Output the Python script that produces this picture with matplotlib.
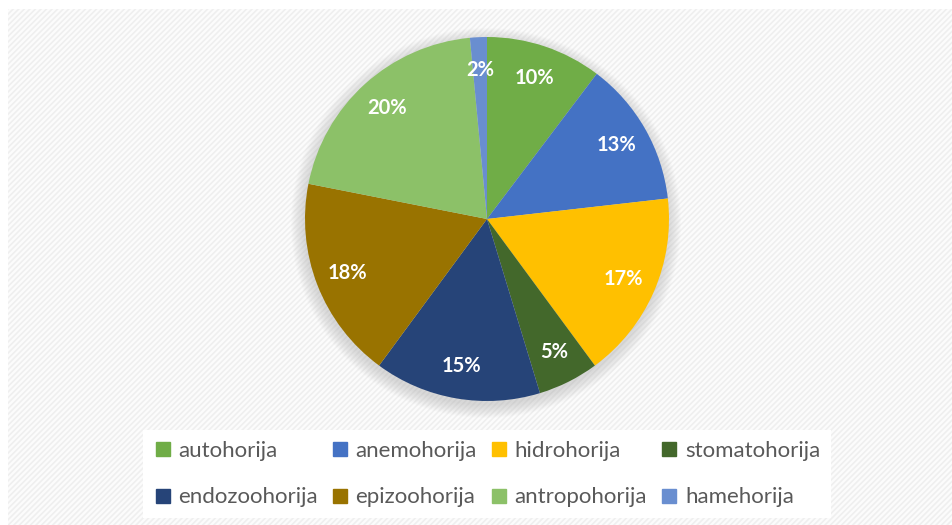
import matplotlib
matplotlib.use("Agg")
import matplotlib.pyplot as plt
from matplotlib.patches import Rectangle, Circle
from matplotlib.lines import Line2D
import numpy as np

categories = ["autohorija", "anemohorija", "hidrohorija", "stomatohorija",
              "endozoohorija", "epizoohorija", "antropohorija", "hamehorija"]
values = [10.3, 12.9, 16.7, 5.4, 14.8, 18.0, 20.4, 1.5]
colors = ["#70AD47", "#4472C4", "#FFC000", "#43682B",
          "#264478", "#997300", "#8CC168", "#698ED0"]

W, H = 952, 525
fig = plt.figure(figsize=(W / 100, H / 100), dpi=100)
fig.patch.set_facecolor("white")

plt.rcParams['hatch.linewidth'] = 1.2

ax = fig.add_axes([0, 0, 1, 1])
ax.axis("off")
ax.patch.set_alpha(0)

cx, cy, r = 487, H - 219, 182

wedges, texts, autotexts = ax.pie(
    values, colors=colors, startangle=90, counterclock=False,
    center=(cx, cy), radius=r,
    autopct=lambda p: "%d%%" % int(p + 0.5), pctdistance=0.82,
    wedgeprops=dict(linewidth=0), frame=True,
    textprops=dict(color="white", fontsize=14.5, fontweight="bold", family="Lato"))
for w in wedges:
    w.set_zorder(2)
for t in autotexts:
    t.set_zorder(3)

ax.add_patch(Rectangle((8, 0), W - 8, H - 9, facecolor="#FCFCFC",
                       edgecolor="#EFEFEF", hatch="//////", linewidth=0, zorder=0))
# soft shadow
for k in range(14):
    ax.add_patch(Circle((cx - 1, cy - 4), r + 13 - k, facecolor="#808080",
                        alpha=0.02, edgecolor="none", zorder=1))

ax.set_xlim(0, W)
ax.set_ylim(0, H)
ax.set_aspect("equal")
ax.set_position([0, 0, 1, 1])
ax.axis("off")

order = [0, 4, 1, 5, 2, 6, 3, 7]
handles = [Line2D([], [], marker="s", linestyle="none", markersize=10,
                  markerfacecolor=colors[i], markeredgecolor=colors[i]) for i in order]
labels = [categories[i] for i in order]
leg = fig.legend(handles, labels, ncol=4, loc="center",
                 bbox_to_anchor=(487 / W, 1 - 474 / H),
                 frameon=True, facecolor="white", edgecolor="none", framealpha=1,
                 fancybox=False, borderpad=0.5, handlelength=0.8, handletextpad=0.3,
                 columnspacing=0.6, labelspacing=1.2,
                 prop=dict(family="Lato", size=16))
for t in leg.get_texts():
    t.set_color("#595959")

fig.savefig("out.png", dpi=100)
